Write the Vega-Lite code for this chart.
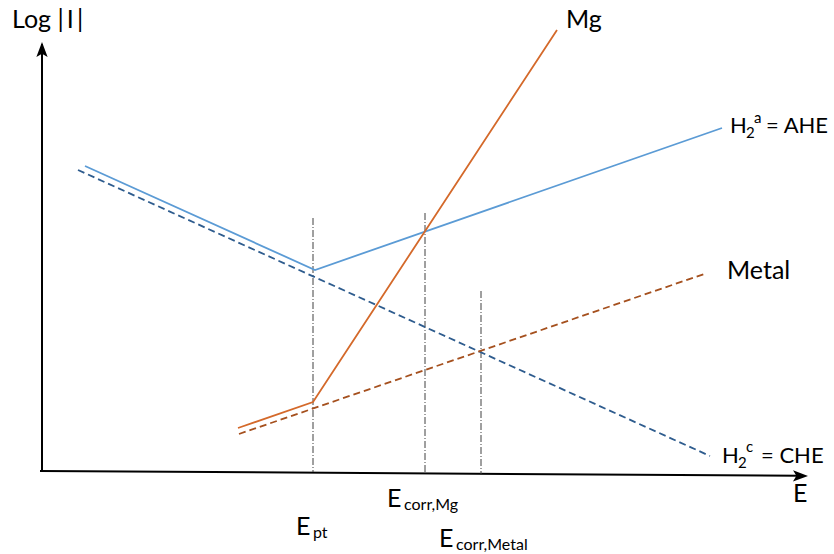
{
  "$schema": "https://vega.github.io/schema/vega-lite/v6.json",
  "width": 834,
  "height": 554,
  "padding": 0,
  "autosize": "none",
  "background": "white",
  "config": {"view": {"stroke": null}, "text": {"font": "Lato", "color": "#000000"}},
  "datasets": {
    "axes": [
      {"id": "y", "i": 0, "E": 42, "L": 83},
      {"id": "y", "i": 1, "E": 42, "L": 510},
      {"id": "x", "i": 0, "E": 40, "L": 83},
      {"id": "x", "i": 1, "E": 800, "L": 78.2}
    ],
    "ahe": [
      {"E": 85, "L": 388},
      {"E": 315, "L": 284},
      {"E": 722, "L": 426}
    ],
    "che": [
      {"E": 78, "L": 384},
      {"E": 710, "L": 98}
    ],
    "mg": [
      {"E": 238, "L": 126},
      {"E": 313, "L": 152},
      {"E": 557, "L": 524}
    ],
    "metal": [
      {"E": 239, "L": 120},
      {"E": 707, "L": 281}
    ],
    "vlines": [
      {"id": "pt", "i": 0, "E": 313, "L": 336},
      {"id": "pt", "i": 1, "E": 313, "L": 82},
      {"id": "mg", "i": 0, "E": 425, "L": 341},
      {"id": "mg", "i": 1, "E": 425, "L": 82},
      {"id": "metal", "i": 0, "E": 481, "L": 263},
      {"id": "metal", "i": 1, "E": 481, "L": 80}
    ],
    "big": [
      {"t": "Log |\u2009I\u2009|", "E": 12, "L": 526},
      {"t": "Mg", "E": 566, "L": 526},
      {"t": "Metal", "E": 727, "L": 275},
      {"t": "E", "E": 793, "L": 52},
      {"t": "E", "E": 387, "L": 47},
      {"t": "E", "E": 296, "L": 19},
      {"t": "E", "E": 439, "L": 7}
    ],
    "hlabels": [
      {"t": "H", "E": 730, "L": 421},
      {"t": "= AHE", "E": 766, "L": 421},
      {"t": "H", "E": 722, "L": 91},
      {"t": "= CHE", "E": 761, "L": 91}
    ],
    "hsmall": [
      {"t": "2", "E": 746, "L": 416},
      {"t": "a", "E": 754, "L": 431},
      {"t": "2", "E": 738, "L": 86},
      {"t": "c", "E": 746, "L": 102}
    ],
    "small": [
      {"t": "corr,Mg", "E": 404, "L": 44},
      {"t": "pt", "E": 313, "L": 16},
      {"t": "corr,Metal", "E": 456, "L": 4}
    ],
    "arrowY": [{"E": 42, "L": 504.5}],
    "arrowX": [{"E": 800.5, "L": 78.1}]
  },
  "encoding": {
    "x": {"field": "E", "type": "quantitative", "scale": {"domain": [0, 834], "nice": false, "zero": false}, "axis": null},
    "y": {"field": "L", "type": "quantitative", "scale": {"domain": [0, 554], "nice": false, "zero": false}, "axis": null}
  },
  "layer": [
    {
      "data": {"name": "axes"},
      "mark": {"type": "line", "color": "#000000", "strokeWidth": 2},
      "encoding": {"detail": {"field": "id"}, "order": {"field": "i"}}
    },
    {
      "data": {"name": "arrowY"},
      "mark": {"type": "point", "shape": "M0,-1L0.75,1L0,0.55L-0.75,1Z", "size": 225, "filled": true, "color": "#000000", "opacity": 1, "angle": 0}
    },
    {
      "data": {"name": "arrowX"},
      "mark": {"type": "point", "shape": "M0,-1L0.75,1L0,0.55L-0.75,1Z", "size": 225, "filled": true, "color": "#000000", "opacity": 1, "angle": 90.4}
    },
    {
      "data": {"name": "vlines"},
      "mark": {"type": "line", "color": "#404040", "strokeWidth": 1, "strokeDash": [7, 2, 1, 2]},
      "encoding": {"detail": {"field": "id"}, "order": {"field": "i"}}
    },
    {
      "data": {"name": "che"},
      "mark": {"type": "line", "color": "#2E5C8E", "strokeWidth": 1.8, "strokeDash": [7, 4]}
    },
    {
      "data": {"name": "metal"},
      "mark": {"type": "line", "color": "#A5501E", "strokeWidth": 1.8, "strokeDash": [7, 4]}
    },
    {
      "data": {"name": "ahe"},
      "mark": {"type": "line", "color": "#5B9BD5", "strokeWidth": 1.8}
    },
    {
      "data": {"name": "mg"},
      "mark": {"type": "line", "color": "#D4692A", "strokeWidth": 1.8}
    },
    {
      "data": {"name": "big"},
      "mark": {"type": "text", "align": "left", "baseline": "alphabetic", "fontSize": 25},
      "encoding": {"text": {"field": "t"}}
    },
    {
      "data": {"name": "hlabels"},
      "mark": {"type": "text", "align": "left", "baseline": "alphabetic", "fontSize": 22},
      "encoding": {"text": {"field": "t"}}
    },
    {
      "data": {"name": "hsmall"},
      "mark": {"type": "text", "align": "left", "baseline": "alphabetic", "fontSize": 15},
      "encoding": {"text": {"field": "t"}}
    },
    {
      "data": {"name": "small"},
      "mark": {"type": "text", "align": "left", "baseline": "alphabetic", "fontSize": 16},
      "encoding": {"text": {"field": "t"}}
    }
  ]
}
